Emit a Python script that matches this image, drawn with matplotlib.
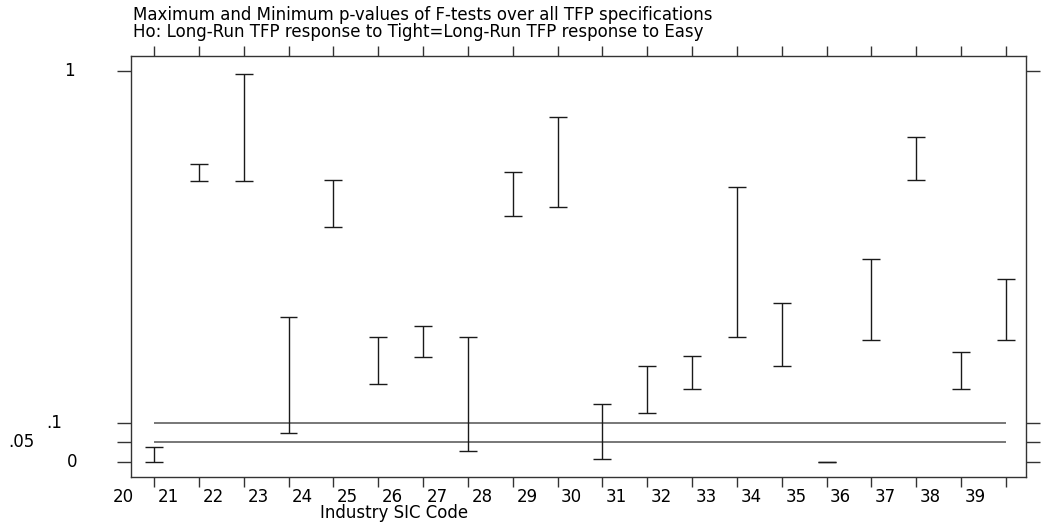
import matplotlib
matplotlib.use("Agg")
import matplotlib.pyplot as plt
import matplotlib.transforms as mtransforms

# ---- data ----
industries = list(range(20, 40))
pmax = [0.038, 0.762, 0.993, 0.371, 0.720, 0.319, 0.349, 0.319, 0.741, 0.882,
        0.148, 0.246, 0.271, 0.703, 0.407, 0.001, 0.519, 0.831, 0.281, 0.467]
pmin = [0.000, 0.719, 0.719, 0.075, 0.600, 0.199, 0.268, 0.029, 0.629, 0.651,
        0.008, 0.126, 0.187, 0.320, 0.246, 0.000, 0.311, 0.720, 0.187, 0.311]
ref_levels = [0.1, 0.05]
ytick_vals = [0, 0.05, 0.1, 1]
ytick_text = ["0", ".05", ".1", "1"]
x_labels = [str(v) for v in industries]
title1 = "Maximum and Minimum p-values of F-tests over all TFP specifications"
title2 = "Ho: Long-Run TFP response to Tight=Long-Run TFP response to Easy"
xtitle = "Industry SIC Code"

W, H = 1045, 529
fig = plt.figure(figsize=(W / 100, H / 100), dpi=100)
plt.rcParams['font.family'] = ['DejaVu Sans']

ax = fig.add_axes([131 / W, (H - 477) / H, (1026 - 131) / W, (477 - 56) / H])
ax.set_xlim(19.487, 39.447)
ax.set_ylim(-0.0384, 1.0384)

spine_col = "#333333"
for s in ax.spines.values():
    s.set_color(spine_col)
    s.set_linewidth(1.0)

# reference lines
for lv in ref_levels:
    ax.hlines(lv, industries[0], industries[-1], color="#777777", lw=1.4, zorder=1)

# range bars with caps
ax.vlines(industries, pmin, pmax, color="#1a1a1a", lw=1.0, zorder=2)
cap = 0.2
ax.hlines(pmax, [v - cap for v in industries], [v + cap for v in industries],
          color="#1a1a1a", lw=1.0, zorder=2)
ax.hlines(pmin, [v - cap for v in industries], [v + cap for v in industries],
          color="#1a1a1a", lw=1.0, zorder=2)

# ticks
ax.set_xticks(industries)
ax.set_xticklabels([])
ax.tick_params(axis='x', which='both', direction='out', length=7.5, width=1.0,
               color=spine_col, top=True, bottom=True)
ax.set_yticks(ytick_vals)
ax.set_yticklabels([])
ax.tick_params(axis='y', which='both', direction='out', length=10, width=1.0,
               color=spine_col, left=True, right=True)

fs = 12.0
# x tick labels (offset one position to the left, left-aligned as in original)
trx = mtransforms.blended_transform_factory(ax.transData, fig.transFigure)
for v, lab in zip(industries, x_labels):
    ax.text(v - 1 + 0.08, (H - 501.5) / H, lab, transform=trx, ha='left',
            va='baseline', fontsize=fs, clip_on=False)

# y tick labels, staggered
try_ = mtransforms.blended_transform_factory(fig.transFigure, ax.transData)
ylab_right = {"0": 77, ".05": 35, ".1": 62, "1": 75}
for v, lab in zip(ytick_vals, ytick_text):
    ax.text(ylab_right[lab] / W, v, lab, transform=try_, ha='right',
            va='center', fontsize=fs, clip_on=False)

fig.text(133 / W, (H - 20.5) / H, title1, ha='left', va='baseline', fontsize=fs)
fig.text(133 / W, (H - 37.0) / H, title2, ha='left', va='baseline', fontsize=fs)
fig.text(320 / W, (H - 518.5) / H, xtitle, ha='left', va='baseline', fontsize=fs)

fig.savefig("out.png", dpi=100)
